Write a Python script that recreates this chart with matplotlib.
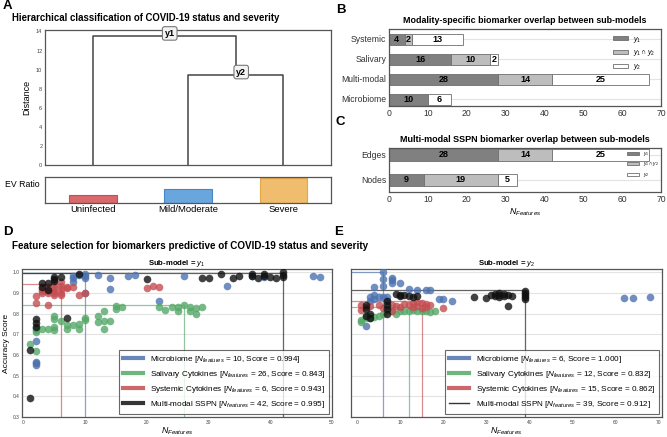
import matplotlib
matplotlib.use('Agg')
import matplotlib.pyplot as plt
from matplotlib.lines import Line2D
from matplotlib.patches import Patch

plt.rcParams['font.family'] = ['Liberation Sans', 'DejaVu Sans']
plt.rcParams['mathtext.fontset'] = 'custom'
plt.rcParams['mathtext.rm'] = 'Liberation Sans'
plt.rcParams['mathtext.it'] = 'Liberation Sans:italic'
plt.rcParams['mathtext.bf'] = 'Liberation Sans:bold'

# ---- data ----
groups = ["Uninfected", "Mild/Moderate", "Severe"]
link_heights = [13.5, 9.45]          # y1, y2
ev_ratio = [0.32, 0.55, 0.96]
ev_colors = ['#d9696b', '#6aa6de', '#efbd6d']
ev_edges = ['#c44e52', '#4a86c5', '#e2a746']

modalities = ["Microbiome", "Multi-modal", "Salivary", "Systemic"]
mod_y1 = [10, 28, 16, 4]
mod_both = [0, 14, 10, 2]
mod_y2 = [6, 25, 2, 13]

sspn_parts = ["Nodes", "Edges"]
sspn_y1 = [9, 28]
sspn_both = [19, 14]
sspn_y2 = [5, 25]

series_names = ["Microbiome", "Salivary Cytokines", "Systemic Cytokines", "Multi-modal SSPN"]
series_colors = ['#4C72B0', '#55A868', '#C44E52', '#111111']

# sub-model y1
y1_micro_x = [2, 2, 2, 2, 8, 8, 8, 9, 10, 10, 10, 10, 12, 14, 14, 17, 18, 22, 26, 33, 37, 39, 47, 48]
y1_micro_y = [0.553, 0.56, 0.567, 0.665, 0.98, 0.97, 0.95, 0.985, 0.99, 0.98, 0.972, 0.90, 0.985,
              0.97, 0.92, 0.98, 0.985, 0.86, 0.98, 0.935, 0.98, 0.975, 0.98, 0.978]
y1_saliv_x = [1, 2, 2, 2, 2, 3, 4, 5, 5, 5, 5, 6, 7, 7, 8, 9, 9, 10, 10, 12, 12, 13, 13, 13, 14,
              15, 15, 16, 22, 23, 24, 25, 25, 26, 27, 27, 28, 28, 29]
y1_saliv_y = [0.655, 0.62, 0.71, 0.72, 0.73, 0.725, 0.725, 0.72, 0.735, 0.79, 0.775, 0.765, 0.745,
              0.725, 0.745, 0.75, 0.725, 0.78, 0.77, 0.79, 0.76, 0.81, 0.765, 0.725, 0.765,
              0.835, 0.82, 0.83, 0.83, 0.816, 0.83, 0.83, 0.81, 0.84, 0.83, 0.81, 0.825, 0.80, 0.83]
y1_syst_x = [2, 2, 3, 3, 3, 4, 4, 4, 4, 5, 5, 5, 5, 5, 6, 6, 6, 6, 6, 7, 7, 8, 9, 10, 20, 21, 22]
y1_syst_y = [0.885, 0.85, 0.92, 0.91, 0.90, 0.93, 0.91, 0.90, 0.84, 0.94, 0.925, 0.91, 0.90, 0.89,
             0.95, 0.935, 0.92, 0.90, 0.89, 0.93, 0.925, 0.93, 0.89, 0.90, 0.925, 0.935, 0.93]
y1_sspn_x = [1, 1, 2, 2, 2, 3, 3, 4, 4, 5, 5, 5, 6, 7, 9, 20, 29, 30, 32, 34, 35, 37, 37, 38, 39,
             39, 40, 41, 42, 42, 42]
y1_sspn_y = [0.39, 0.625, 0.775, 0.755, 0.735, 0.945, 0.93, 0.945, 0.915, 0.975, 0.965, 0.955,
             0.975, 0.78, 0.99, 0.965, 0.97, 0.97, 0.99, 0.97, 0.98, 0.99, 0.98, 0.97, 0.99,
             0.98, 0.975, 0.97, 1.0, 0.985, 0.975]
y1_best_n = [10, 26, 6, 42]
y1_best_score = [0.994, 0.843, 0.943, 0.995]

# sub-model y2
y2_micro_x = [2, 3, 3, 4, 4, 4, 5, 6, 6, 6, 6, 7, 7, 8, 8, 8, 10, 12, 14, 16, 17, 19, 20, 22,
              62, 64, 68]
y2_micro_y = [0.74, 0.86, 0.88, 0.87, 0.93, 0.89, 0.88, 1.0, 0.965, 0.935, 0.88, 0.88, 0.86,
              0.97, 0.96, 0.945, 0.945, 0.92, 0.913, 0.912, 0.913, 0.868, 0.87, 0.86,
              0.876, 0.877, 0.88]
y2_saliv_x = [1, 1, 2, 2, 3, 3, 4, 5, 6, 7, 8, 9, 10, 11, 12, 13, 14, 15, 16, 17, 18]
y2_saliv_y = [0.77, 0.76, 0.78, 0.79, 0.79, 0.78, 0.785, 0.79, 0.80, 0.81, 0.81, 0.80, 0.81,
              0.81, 0.81, 0.815, 0.81, 0.81, 0.81, 0.805, 0.81]
y2_syst_x = [1, 1, 2, 3, 5, 6, 8, 8, 9, 10, 11, 12, 13, 13, 14, 14, 15, 15, 16, 16, 17, 20]
y2_syst_y = [0.84, 0.815, 0.83, 0.835, 0.84, 0.825, 0.84, 0.81, 0.835, 0.83, 0.845, 0.84,
             0.85, 0.83, 0.855, 0.835, 0.85, 0.825, 0.845, 0.83, 0.84, 0.825]
y2_sspn_x = [2, 2, 2, 3, 3, 7, 7, 7, 7, 9, 10, 10, 11, 12, 13, 14, 27, 30, 31, 32, 32, 33, 33,
             33, 34, 34, 35, 35, 36, 39, 39, 39, 39, 39]
y2_sspn_y = [0.84, 0.82, 0.79, 0.80, 0.78, 0.86, 0.84, 0.82, 0.80, 0.895, 0.89, 0.885, 0.89,
             0.885, 0.88, 0.885, 0.88, 0.875, 0.89, 0.895, 0.885, 0.90, 0.89, 0.88, 0.895,
             0.885, 0.835, 0.89, 0.885, 0.91, 0.90, 0.89, 0.88, 0.87]
y2_best_n = [6, 12, 15, 39]
y2_best_score = [1.000, 0.832, 0.862, 0.912]

W, H = 667, 437
fig = plt.figure(figsize=(W / 100, H / 100), dpi=100)


def rect(x0, y0, x1, y1):
    return [x0 / W, 1 - y1 / H, (x1 - x0) / W, (y1 - y0) / H]


def frame(ax, color='#555555'):
    for s in ax.spines.values():
        s.set_color(color)
        s.set_linewidth(0.9)


# ---- A: dendrogram ----
axA = fig.add_axes(rect(45, 30, 331, 165))
leaf_x = [5 + 10 * i for i in range(len(groups))]
h1, h2 = link_heights
mid2 = (leaf_x[1] + leaf_x[2]) / 2
dcol = '#444444'
axA.plot([leaf_x[1], leaf_x[1], leaf_x[2], leaf_x[2]], [0, h2, h2, 0], color=dcol, lw=1.1)
axA.plot([leaf_x[0], leaf_x[0], mid2, mid2], [0, h1, h1, h2], color=dcol, lw=1.1)
box = dict(boxstyle='round,pad=0.25', fc='#f2f2f2', ec='#777777', lw=0.8)
axA.annotate('y1', ((leaf_x[0] + mid2) / 2, h1), xytext=(4, 2), textcoords='offset points',
             ha='center', va='center', fontsize=6.5, fontweight='bold', bbox=box)
axA.annotate('y2', (mid2, h2), xytext=(4, 2), textcoords='offset points',
             ha='center', va='center', fontsize=6.5, fontweight='bold', bbox=box)
axA.set_xlim(0, 30)
axA.set_ylim(0, 14.15)
axA.set_yticks(range(0, 15, 2))
axA.set_xticks([])
axA.tick_params(axis='y', labelsize=4, length=0, pad=2, labelcolor='#444444')
axA.set_ylabel('Distance', fontsize=6.5, labelpad=3)
frame(axA)
fig.text(12 / W, 1 - 18 / H, 'Hierarchical classification of COVID-19 status and severity',
         fontsize=6.9, fontweight='bold', va='center')

axEV = fig.add_axes(rect(45, 177, 331, 203))
axEV.bar(leaf_x, ev_ratio, width=5, color=ev_colors, edgecolor=ev_edges, lw=0.8)
axEV.set_xlim(0, 30)
axEV.set_ylim(0, 1)
axEV.set_yticks([])
axEV.set_xticks(leaf_x)
axEV.set_xticklabels(groups)
axEV.tick_params(axis='x', labelsize=6.8, length=0, pad=1.5)
axEV.set_ylabel('EV Ratio', fontsize=6.3, rotation=0, ha='right', va='center', labelpad=4)
axEV.yaxis.set_label_coords(-0.02, 0.7)
frame(axEV)

# ---- B / C: stacked bars ----
seg_colors = ['#808080', '#bdbdbd', 'white']
seg_labels = ['$y_1$', r'$y_1 \cap y_2$', '$y_2$']


def stacked(ax, cats, parts, height):
    pos = list(range(len(cats)))
    left = [0] * len(cats)
    for vals, col in zip(parts, seg_colors):
        ax.barh(pos, vals, left=left, height=height, color=col, edgecolor='#6e6e6e', lw=0.6,
                zorder=2)
        for p, l, v in zip(pos, left, vals):
            if v > 0:
                ax.text(l + v / 2, p, str(v), ha='center', va='center', fontsize=6.5,
                        fontweight='bold', zorder=3)
        left = [a + b for a, b in zip(left, vals)]
    ax.set_yticks(pos)
    ax.set_yticklabels(cats)
    ax.set_xlim(0, 70)
    ax.set_xticks(range(0, 71, 10))
    ax.tick_params(labelsize=6.2, length=0, pad=2, labelcolor='#333333')
    ax.grid(axis='y', color='#e3e3e3', lw=0.8, zorder=0)
    frame(ax)


axB = fig.add_axes(rect(389, 29, 661, 106))
stacked(axB, modalities, [mod_y1, mod_both, mod_y2], 0.55)
axB.set_ylim(-0.35, 3.5)
axB.set_title('Modality-specific biomarker overlap between sub-models', fontsize=6.4,
              fontweight='bold', pad=4)
hB = [Patch(fc=c, ec='#6e6e6e', lw=0.6) for c in seg_colors]
axB.legend(hB, seg_labels, loc='upper right', frameon=False, fontsize=5, handlelength=2.2,
           handleheight=0.6, labelspacing=0.55, borderaxespad=0.4)

axC = fig.add_axes(rect(389, 148, 661, 192))
stacked(axC, sspn_parts, [sspn_y1, sspn_both, sspn_y2], 0.5)
axC.set_ylim(-0.48, 1.27)
axC.set_title('Multi-modal SSPN biomarker overlap between sub-models', fontsize=6.5,
              fontweight='bold', pad=4)
axC.set_xlabel('$N_{Features}$', fontsize=6.3, labelpad=2)
axC.legend(hB, seg_labels, loc='upper right', frameon=False, fontsize=3.5, handlelength=2.5,
           handleheight=0.6, labelspacing=0.5, borderaxespad=0.0)


# ---- D / E: feature selection scatter ----
def selection(ax, xs, ys, best_n, best_score, sub, thick_black):
    ax.set_ylim(0.3, 1.015)
    xmin = ax.get_xlim()[0]
    for x, y, c in zip(xs, ys, series_colors):
        ax.scatter(x, y, s=30, color=c, alpha=0.8, lw=0, zorder=3)
    for n, sc, c in zip(best_n, best_score, series_colors):
        ax.plot([xmin, n, n], [sc, sc, 0.3], color=c, lw=0.9, alpha=0.65, zorder=2)
    ax.set_xlim(xmin, ax.get_xlim()[1])
    ax.set_yticks([0.3, 0.4, 0.5, 0.6, 0.7, 0.8, 0.9, 1.0])
    ax.grid(axis='y', color='#e3e3e3', lw=0.8, zorder=0)
    ax.tick_params(labelsize=3.5, length=0, pad=2, labelcolor='#444444')
    ax.set_xlabel('$N_{Features}$', fontsize=6.3, labelpad=0.5)
    ax.set_title('Sub-model = $y_%s$' % sub, fontsize=5.6, fontweight='bold', pad=3)
    handles = []
    labels = []
    for name, n, sc, c in zip(series_names, best_n, best_score, series_colors):
        lw = 3 if (c != series_colors[-1] or thick_black) else 1
        handles.append(Line2D([], [], color=c, lw=lw, alpha=0.85))
        labels.append('%s [$N_{features}$ = %d, Score = %.3f]' % (name, n, sc))
    leg = ax.legend(handles, labels, loc='lower right', fontsize=5.9, frameon=True,
                    fancybox=False, edgecolor='#444444', handlelength=2.4,
                    borderaxespad=0.35, labelspacing=0.5, borderpad=0.5)
    leg.get_frame().set_linewidth(0.8)
    frame(ax)


axD = fig.add_axes(rect(22, 269, 332, 417))
axD.set_xlim(-0.26, 50)
selection(axD, [y1_micro_x, y1_saliv_x, y1_syst_x, y1_sspn_x],
          [y1_micro_y, y1_saliv_y, y1_syst_y, y1_sspn_y], y1_best_n, y1_best_score, '1', True)
axD.set_xticks(range(0, 51, 10))
axD.set_ylabel('Accuracy Score', fontsize=6.0, labelpad=1.5)

axE = fig.add_axes(rect(351, 269, 662, 417))
axE.set_xlim(-1.4, 70.7)
selection(axE, [y2_micro_x, y2_saliv_x, y2_syst_x, y2_sspn_x],
          [y2_micro_y, y2_saliv_y, y2_syst_y, y2_sspn_y], y2_best_n, y2_best_score, '2', False)
axE.set_xticks(range(0, 71, 10))
axE.set_yticklabels([])

fig.text(12 / W, 1 - 246 / H, 'Feature selection for biomarkers predictive of COVID-19 status and severity',
         fontsize=7.1, fontweight='bold', va='center')

# panel letters
for lab, x, y in [('A', 3, 6), ('B', 336, 10), ('C', 336, 122), ('D', 3, 232), ('E', 334, 232)]:
    fig.text(x / W, 1 - y / H, lab, fontsize=9.5, fontweight='bold', va='center', ha='left')

fig.savefig('out.png', dpi=100)
